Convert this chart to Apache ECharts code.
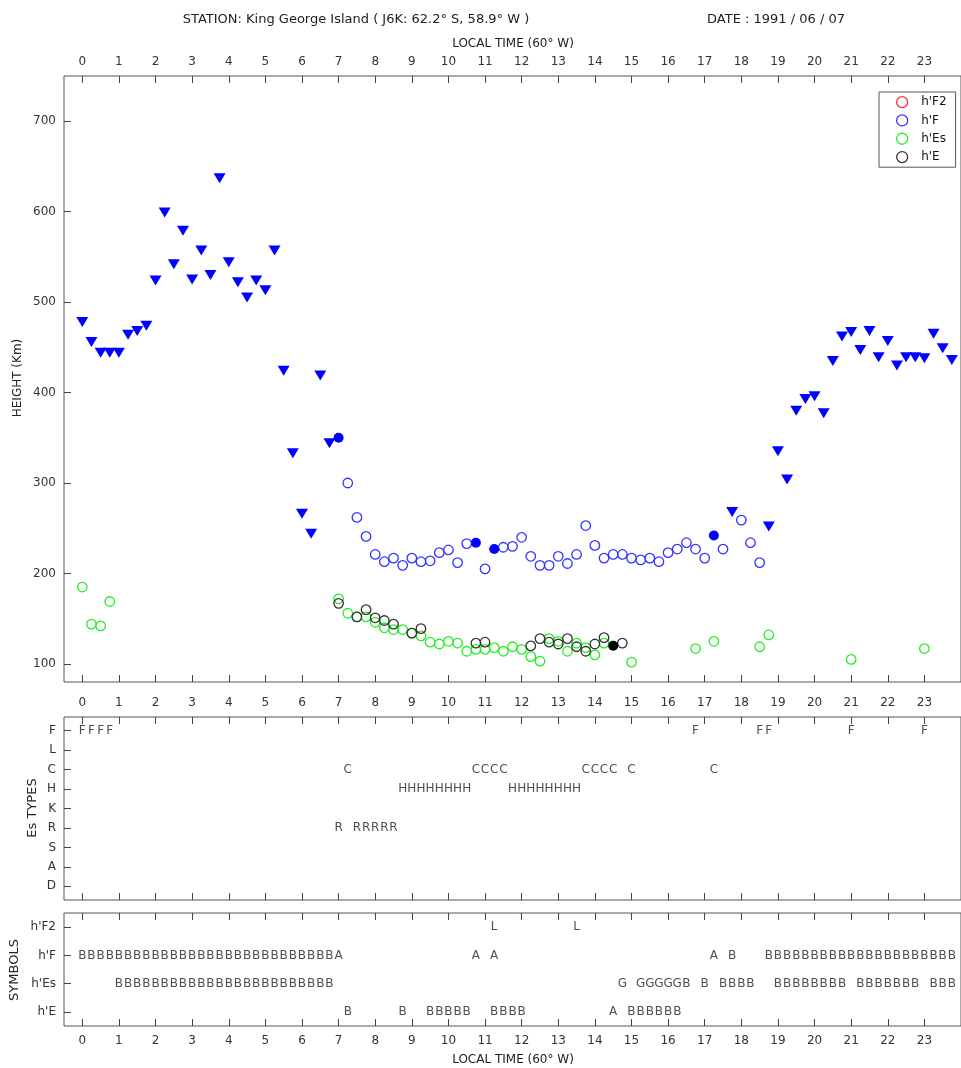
<!DOCTYPE html>
<html>
<head>
<meta charset="utf-8">
<title>King George Island ionogram summary</title>
<script src="https://cdn.jsdelivr.net/npm/echarts@6/dist/echarts.min.js"></script>
<style>
	html, body { margin: 0; padding: 0; background: #fff; }
	#chart { width: 961px; height: 1068px; }
</style>
</head>
<body>
<div id="chart"></div>
<script>
// tick labels / categories
const hourTicks = [0, 1, 2, 3, 4, 5, 6, 7, 8, 9, 10, 11, 12, 13, 14, 15, 16, 17, 18, 19, 20, 21, 22, 23]
const heightTicks = [100, 200, 300, 400, 500, 600, 700]
const esTypeRows = ['F', 'L', 'C', 'H', 'K', 'R', 'S', 'A', 'D']
const symbolRows = ["h'F2", "h'F", "h'Es", "h'E"]

// h'F, qualifier B (value is a limit) -> down triangles  [local time, km]
const hFLimit = [
	[0, 478], [0.25, 456], [0.5, 444], [0.75, 444], [1, 444], [1.25, 464], [1.5, 468], [1.75, 474],
	[2, 524], [2.25, 599], [2.5, 542], [2.75, 579], [3, 525], [3.25, 557], [3.5, 530], [3.75, 637],
	[4, 544], [4.25, 522], [4.5, 505], [4.75, 524], [5, 513], [5.25, 557], [5.5, 424], [5.75, 333],
	[6, 266], [6.25, 244], [6.5, 419], [6.75, 344],
	[17.75, 268], [18.75, 252],
	[19, 335], [19.25, 304], [19.5, 380], [19.75, 393], [20, 396], [20.25, 377], [20.5, 435], [20.75, 462],
	[21, 467], [21.25, 447], [21.5, 468], [21.75, 439], [22, 457], [22.25, 430], [22.5, 439], [22.75, 439],
	[23, 438], [23.25, 465], [23.5, 449], [23.75, 436]
]
// h'F, qualifier A -> filled circles
const hFFilled = [[7, 350], [10.75, 234], [11.25, 227], [17.25, 242]]
// h'F plain values
const hFValues = [
	[7.25, 300], [7.5, 262], [7.75, 241], [8, 221], [8.25, 213], [8.5, 217], [8.75, 209], [9, 217],
	[9.25, 213], [9.5, 214], [9.75, 223], [10, 226], [10.25, 212], [10.5, 233], [11, 205], [11.5, 229],
	[11.75, 230], [12, 240], [12.25, 219], [12.5, 209], [12.75, 209], [13, 219], [13.25, 211], [13.5, 221],
	[13.75, 253], [14, 231], [14.25, 217], [14.5, 221], [14.75, 221], [15, 217], [15.25, 215], [15.5, 217],
	[15.75, 213], [16, 223], [16.25, 227], [16.5, 234], [16.75, 227], [17, 217], [17.5, 227], [18, 259],
	[18.25, 234], [18.5, 212]
]
const hF2Values = []
const hEsValues = [
	[0, 185], [0.25, 144], [0.5, 142], [0.75, 169],
	[7, 172], [7.25, 156], [7.5, 152], [7.75, 152], [8, 146], [8.25, 140], [8.5, 138], [8.75, 138],
	[9, 134], [9.25, 131], [9.5, 124], [9.75, 122], [10, 125], [10.25, 123], [10.5, 114], [10.75, 116],
	[11, 116], [11.25, 118], [11.5, 114], [11.75, 119], [12, 116], [12.25, 108], [12.5, 103], [12.75, 128],
	[13, 125], [13.25, 114], [13.5, 123], [13.75, 118], [14, 110], [14.25, 123], [15, 102],
	[16.75, 117], [17.25, 125], [18.5, 119], [18.75, 132], [21, 105], [23, 117]
]
const hEValues = [
	[7, 167], [7.5, 152], [7.75, 160], [8, 151], [8.25, 148], [8.5, 144], [9, 134], [9.25, 139],
	[10.75, 123], [11, 124], [12.25, 120], [12.5, 128], [12.75, 124], [13, 122], [13.25, 128],
	[13.5, 119], [13.75, 114], [14, 122], [14.25, 129], [14.75, 123]
]
const hEFilled = [[14.5, 120]]

// letter runs: [start time, letters one per 15 min, space = nothing]
const esTypeF = [[0, 'FFFF'], [16.75, 'F'], [18.5, 'FF'], [21, 'F'], [23, 'F']]
const esTypeC = [[7.25, 'C'], [10.75, 'CCCC'], [13.75, 'CCCC'], [15, 'C'], [17.25, 'C']]
const esTypeH = [[8.75, 'HHHHHHHH'], [11.75, 'HHHHHHHH']]
const esTypeR = [[7, 'R RRRRR']]

const symHF2 = [[11.25, 'L'], [13.5, 'L']]
const symHF = [[0, 'BBBBBBBBBBBBBBBBBBBBBBBBBBBBA'], [10.75, 'A A'], [17.25, 'A B'], [18.75, 'BBBBBBBBBBBBBBBBBBBBB']]
const symHEs = [[1, 'BBBBBBBBBBBBBBBBBBBBBBBB'], [14.75, 'G GGGGGB B BBBB  BBBBBBBB BBBBBBB BBB']]
const symHE = [[7.25, 'B'], [8.75, 'B'], [9.5, 'BBBBB'], [11.25, 'BBBB'], [14.5, 'A BBBBBB']]

const FONT = 'DejaVu Sans'
const chart = echarts.init(document.getElementById('chart'))

// expand letter runs into scatter points
const letters = (runs, row) => {
	const out = []
	runs.forEach(([t0, s]) => {
		for (let i = 0; i < s.length; i++) {
			if (s[i] !== ' ') out.push([t0 + i * 0.25, row, s[i]])
		}
	})
	return out
}

const ring = (name, data, color) => ({
	name: name,
	type: 'scatter',
	xAxisIndex: 0,
	yAxisIndex: 0,
	data: data,
	symbol: 'circle',
	symbolSize: 9.5,
	itemStyle: { color: 'rgba(0,0,0,0)', borderColor: color, borderWidth: 1.3, opacity: 1 }
})

const letterSeries = (data, xi, yi) => ({
	type: 'scatter',
	xAxisIndex: xi,
	yAxisIndex: yi,
	data: data,
	symbolSize: 1,
	silent: true,
	itemStyle: { color: 'rgba(0,0,0,0)' },
	label: {
		show: true,
		position: 'inside',
		formatter: (p) => p.value[2],
		fontFamily: FONT,
		fontSize: 12,
		color: '#222'
	}
})

const tickStyle = { lineStyle: { color: '#444', width: 1 } }

const xAxisFor = (grid, pos, withLabels) => ({
	type: 'value',
	gridIndex: grid,
	position: pos,
	min: -0.5,
	max: 24,
	axisLine: { show: false, onZero: false },
	splitLine: { show: false },
	axisTick: { show: true, inside: true, length: 7, customValues: hourTicks, ...tickStyle },
	axisLabel: withLabels ? {
		show: true,
		customValues: hourTicks,
		fontFamily: FONT,
		fontSize: 12,
		color: '#333',
		margin: pos === 'top' ? 8 : (grid === 0 ? 15 : 9)
	} : { show: false }
})

const yAxisFor = (grid, min, max, ticks, fmt, inverse) => ({
	type: 'value',
	gridIndex: grid,
	min: min,
	max: max,
	inverse: inverse,
	axisLine: { show: false, onZero: false },
	splitLine: { show: false },
	axisTick: { inside: true, length: 7, customValues: ticks, ...tickStyle },
	axisLabel: {
		customValues: ticks,
		formatter: fmt,
		fontFamily: FONT,
		fontSize: 12,
		color: '#333',
		margin: 8
	}
})

const textEl = (text, x, y, rot, size) => ({
	type: 'text',
	x: x,
	y: y,
	rotation: rot || 0,
	silent: true,
	style: {
		text: text,
		textAlign: 'center',
		verticalAlign: 'middle',
		fontFamily: FONT,
		fontSize: size || 12,
		fill: '#222'
	}
})

const legendItem = (name, color) => ({
	name: name,
	icon: 'circle',
	itemStyle: { color: 'rgba(0,0,0,0)', borderColor: color, borderWidth: 1.3, opacity: 1 }
})

const option = {
	animation: false,
	backgroundColor: '#fff',
	grid: [
		{ left: 64, top: 76, width: 898, height: 606, show: true, borderColor: '#555', borderWidth: 1, backgroundColor: 'rgba(0,0,0,0)' },
		{ left: 64, top: 717, width: 898, height: 183, show: true, borderColor: '#555', borderWidth: 1, backgroundColor: 'rgba(0,0,0,0)' },
		{ left: 64, top: 913, width: 898, height: 113, show: true, borderColor: '#555', borderWidth: 1, backgroundColor: 'rgba(0,0,0,0)' }
	],
	xAxis: [
		xAxisFor(0, 'bottom', true),
		xAxisFor(0, 'top', true),
		xAxisFor(1, 'bottom', false),
		xAxisFor(1, 'top', false),
		xAxisFor(2, 'bottom', true),
		xAxisFor(2, 'top', false)
	],
	yAxis: [
		yAxisFor(0, 80, 750, heightTicks, null, false),
		yAxisFor(1, -0.7, 8.7, [0, 1, 2, 3, 4, 5, 6, 7, 8], (v) => esTypeRows[Math.round(v)], true),
		yAxisFor(2, -0.5, 3.5, [0, 1, 2, 3], (v) => symbolRows[Math.round(v)], true)
	],
	legend: {
		orient: 'vertical',
		left: 879,
		top: 92,
		padding: [4, 9, 4, 17],
		itemWidth: 28,
		itemHeight: 11,
		itemGap: 6,
		borderColor: '#555',
		borderWidth: 1,
		backgroundColor: '#fff',
		textStyle: { fontFamily: FONT, fontSize: 12, color: '#111' },
		data: [
			legendItem("h'F2", '#ff3333'),
			legendItem("h'F", '#3333ff'),
			legendItem("h'Es", '#22ee22'),
			legendItem("h'E", '#333333')
		]
	},
	graphic: [
		textEl('STATION: King George Island ( J6K: 62.2° S, 58.9° W )', 356, 20, 0, 13),
		textEl('DATE : 1991 / 06 / 07', 776, 20, 0, 13),
		textEl('LOCAL TIME (60° W)', 513, 44, 0, 12),
		textEl('LOCAL TIME (60° W)', 513, 1060, 0, 12),
		textEl('HEIGHT (Km)', 18, 378, Math.PI / 2, 12),
		textEl('Es TYPES', 33, 808, Math.PI / 2, 13),
		textEl('SYMBOLS', 15, 970, Math.PI / 2, 13)
	],
	series: [
		ring("h'F2", hF2Values, '#ff3333'),
		ring("h'Es", hEsValues, '#22ee22'),
		ring("h'E", hEValues, '#333333'),
		ring("h'F", hFValues, '#3333ff'),
		{
			name: "h'F limit",
			type: 'scatter',
			data: hFLimit,
			symbol: 'triangle',
			symbolRotate: 180,
			symbolSize: [12, 10],
			itemStyle: { color: '#0000ff', opacity: 1 }
		},
		{
			name: "h'F A",
			type: 'scatter',
			data: hFFilled,
			symbol: 'circle',
			symbolSize: 10,
			itemStyle: { color: '#0000ff', opacity: 1 }
		},
		{
			name: "h'E A",
			type: 'scatter',
			data: hEFilled,
			symbol: 'circle',
			symbolSize: 10,
			itemStyle: { color: '#000', opacity: 1 }
		},
		letterSeries(letters(esTypeF, 0), 2, 1),
		letterSeries(letters(esTypeC, 2), 2, 1),
		letterSeries(letters(esTypeH, 3), 2, 1),
		letterSeries(letters(esTypeR, 5), 2, 1),
		letterSeries(letters(symHF2, 0), 4, 2),
		letterSeries(letters(symHF, 1), 4, 2),
		letterSeries(letters(symHEs, 2), 4, 2),
		letterSeries(letters(symHE, 3), 4, 2)
	]
}

chart.setOption(option)
</script>
</body>
</html>
